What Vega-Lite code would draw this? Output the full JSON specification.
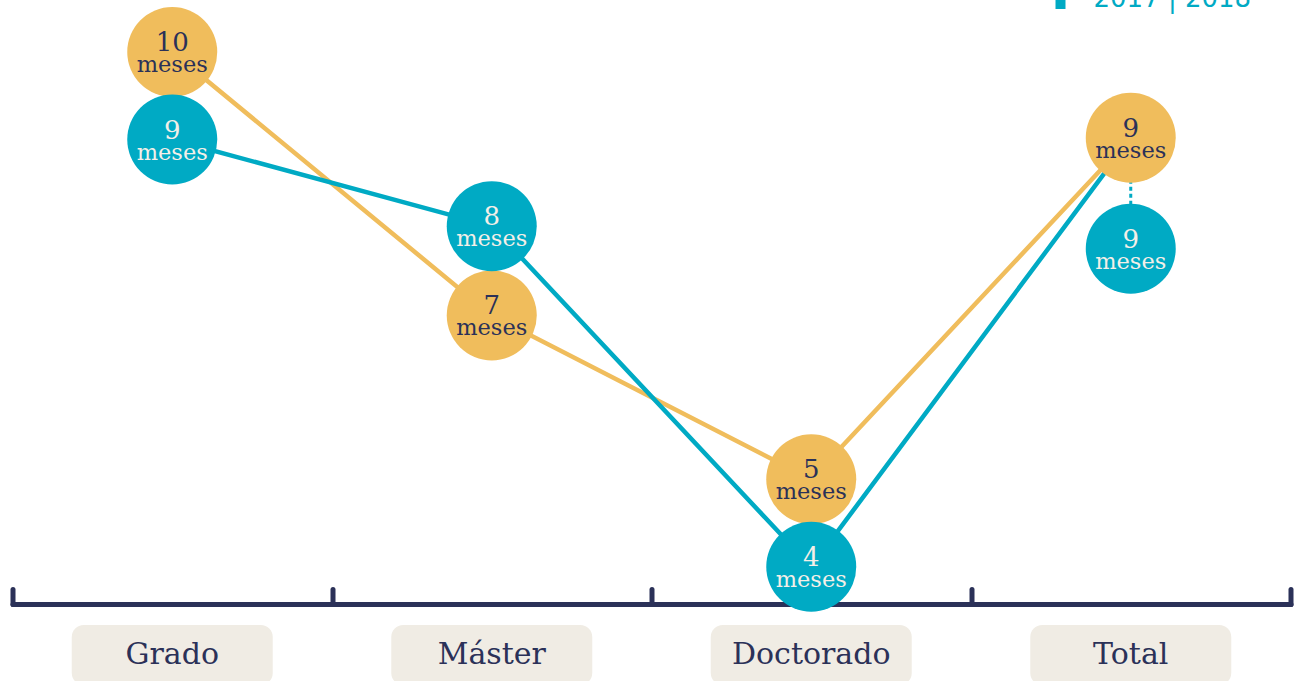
{
  "$schema": "https://vega.github.io/schema/vega-lite/v6.json",
  "background": "white",
  "autosize": {"type": "pad"},
  "padding": {"left": 9.5, "top": -44, "right": 0, "bottom": 0},
  "config": {
    "view": {"stroke": null},
    "font": "DejaVu Serif",
    "legend": {
      "orient": "none", "legendX": 1035, "legendY": -44, "direction": "vertical",
      "title": null, "symbolType": "M-0.5,-1H0.5V1H-0.5Z", "symbolSize": 400,
      "symbolStrokeWidth": 0, "labelFont": "DejaVu Sans", "labelFontSize": 26,
      "labelColor": "#00AAC4", "labelOffset": 20, "rowPadding": 4, "padding": 0
    }
  },
  "datasets": {
    "tiempos": [
      {"categoria": "Grado", "curso": "2016 | 2017", "meses": 10},
      {"categoria": "Máster", "curso": "2016 | 2017", "meses": 6.93},
      {"categoria": "Doctorado", "curso": "2016 | 2017", "meses": 5.02},
      {"categoria": "Total", "curso": "2016 | 2017", "meses": 9},
      {"categoria": "Grado", "curso": "2017 | 2018", "meses": 8.98},
      {"categoria": "Máster", "curso": "2017 | 2018", "meses": 7.97},
      {"categoria": "Doctorado", "curso": "2017 | 2018", "meses": 4},
      {"categoria": "Total", "curso": "2017 | 2018", "meses": 9}
    ],
    "categorias": [
      {"categoria": "Grado"},
      {"categoria": "Máster"},
      {"categoria": "Doctorado"},
      {"categoria": "Total"}
    ]
  },
  "spacing": 13,
  "vconcat": [
    {
      "width": 1278,
      "height": 604,
      "data": {"name": "tiempos"},
      "encoding": {
        "x": {
          "field": "categoria", "type": "nominal",
          "sort": ["Grado", "Máster", "Doctorado", "Total"],
          "scale": {"paddingInner": 0, "paddingOuter": 0},
          "axis": {
            "title": null, "labels": false, "grid": false,
            "domainColor": "#2B3158", "domainWidth": 5, "domainCap": "round",
            "ticks": true, "tickColor": "#2B3158", "tickWidth": 5, "tickSize": -15,
            "tickCap": "round", "tickBand": "extent"
          }
        },
        "y": {
          "field": "meses", "type": "quantitative",
          "scale": {"domain": [3.566, 10.606], "nice": false, "zero": false},
          "axis": null
        },
        "color": {
          "field": "curso", "type": "nominal",
          "scale": {"domain": ["2016 | 2017", "2017 | 2018"], "range": ["#F0BD5C", "#00AAC4"]}
        }
      },
      "layer": [
        {
          "mark": {"type": "line", "strokeWidth": 4.5}
        },
        {
          "transform": [{"filter": "datum.categoria == 'Total' && datum.curso == '2017 | 2018'"}],
          "mark": {"type": "rule", "strokeDash": [4, 3], "strokeWidth": 3, "y2Offset": 111},
          "encoding": {"y2": {"field": "meses"}}
        },
        {
          "transform": [{"filter": "!(datum.categoria == 'Total' && datum.curso == '2017 | 2018')"}],
          "layer": [
            {
              "mark": {"type": "point", "filled": true, "size": 8100, "opacity": 1, "strokeWidth": 0}
            },
            {
              "mark": {"type": "text", "fontSize": 26, "baseline": "alphabetic", "dy": -1},
              "encoding": {
                "text": {"field": "meses", "type": "quantitative", "format": ".0f"},
                "color": {"condition": {"test": "datum.curso == '2017 | 2018'", "value": "#F4EFE8"}, "value": "#2B3158"}
              }
            },
            {
              "mark": {"type": "text", "fontSize": 22.5, "baseline": "alphabetic", "dy": 20, "text": "meses"},
              "encoding": {
                "color": {"condition": {"test": "datum.curso == '2017 | 2018'", "value": "#F4EFE8"}, "value": "#2B3158"}
              }
            }
          ]
        },
        {
          "transform": [{"filter": "datum.categoria == 'Total' && datum.curso == '2017 | 2018'"}],
          "layer": [
            {
              "mark": {"type": "point", "filled": true, "size": 8100, "opacity": 1, "strokeWidth": 0, "yOffset": 111}
            },
            {
              "mark": {"type": "text", "fontSize": 26, "baseline": "alphabetic", "dy": -1, "yOffset": 111},
              "encoding": {
                "text": {"field": "meses", "type": "quantitative", "format": ".0f"},
                "color": {"value": "#F4EFE8"}
              }
            },
            {
              "mark": {"type": "text", "fontSize": 22.5, "baseline": "alphabetic", "dy": 20, "yOffset": 111, "text": "meses"},
              "encoding": {"color": {"value": "#F4EFE8"}}
            }
          ]
        }
      ]
    },
    {
      "width": 1278,
      "height": 60,
      "data": {"name": "categorias"},
      "encoding": {
        "x": {
          "field": "categoria", "type": "nominal",
          "sort": ["Grado", "Máster", "Doctorado", "Total"],
          "scale": {"paddingInner": 0, "paddingOuter": 0},
          "axis": null
        }
      },
      "layer": [
        {"mark": {"type": "bar", "width": 201, "cornerRadius": 12, "color": "#F0ECE4"}},
        {
          "mark": {"type": "text", "fontSize": 30, "color": "#2B3158", "baseline": "alphabetic", "dy": 9, "font": "DejaVu Serif"},
          "encoding": {"text": {"field": "categoria"}}
        }
      ]
    }
  ]
}
